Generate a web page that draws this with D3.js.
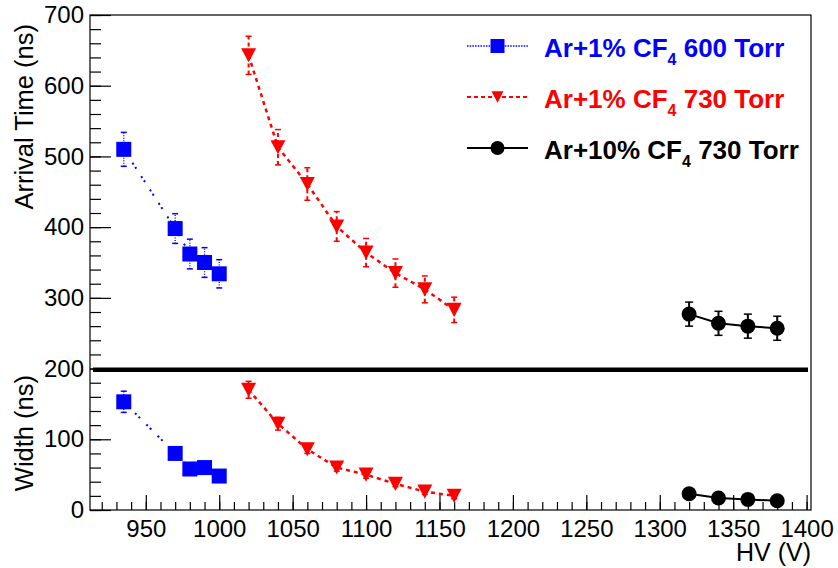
<!DOCTYPE html>
<html><head><meta charset="utf-8">
<script src="https://cdn.jsdelivr.net/npm/d3@7"></script>
<style>body{margin:0;background:#fff}svg{display:block}text{font-family:"Liberation Sans",Arial,Helvetica,sans-serif}</style>
</head><body><svg id="c" width="838" height="568"></svg>
<script>
// ---- data ----
const hvBlue=[935,970,980,990,1000];
const arrBlue=[510,398,362,350,334];
const arrBlueErr=[24,21,21,21,20];
const widBlue=[153,80,58,60,48];
const widBlueErr=[15,4,4,4,4];

const hvRed=[1020,1040,1060,1080,1100,1120,1140,1160];
const arrRed=[643,513,461,401,364,335,312,283];
const arrRedErr=[27,25,23,21,20,20,19,18];
const widRed=[170,122,86,60,50,37,26,20];
const widRedErr=[12,9,6,5,5,4,4,4];

const hvBlack=[1320,1340,1360,1380];
const arrBlack=[277,264,260,257];
const arrBlackErr=[17,17,17,17];
const widBlack=[23,17,15,13];
const widBlackErr=[3,3,3,3];

const xTicks=[950,1000,1050,1100,1150,1200,1250,1300,1350,1400];
const yTicks=[0,100,200,300,400,500,600,700];
const legendLabels=[["Ar+1% CF","4"," 600 Torr"],["Ar+1% CF","4"," 730 Torr"],["Ar+10% CF","4"," 730 Torr"]];

// ---- layout ----
const svg=d3.select("#c");
const L=90,R=811,T=15,B=510;
const x=d3.scaleLinear().domain([912,1403]).range([L,R]);
const y=d3.scaleLinear().domain([0,700]).range([B,T]);

const series=[
 {hv:hvBlue,arr:arrBlue,arrE:arrBlueErr,wid:widBlue,widE:widBlueErr,color:"#0000ff",dash:"2,3,2,9",lw:2,ebDash:"1,1.5",ebW:1.3,capW:3,marker:"square",legDash:"1.5,1.2",legW:1.5},
 {hv:hvRed,arr:arrRed,arrE:arrRedErr,wid:widRed,widE:widRedErr,color:"#ff0000",dash:"4,4",lw:2.5,ebDash:"4,3",ebW:2,capW:3,marker:"tri",legDash:"4,3",legW:2},
 {hv:hvBlack,arr:arrBlack,arrE:arrBlackErr,wid:widBlack,widE:widBlackErr,color:"#000000",dash:null,lw:2,ebDash:null,ebW:2,capW:4,marker:"circle",legDash:null,legW:2}
];

// frame
svg.append("rect").attr("x",L).attr("y",T).attr("width",R-L).attr("height",B-T)
  .attr("fill","none").attr("stroke","#000").attr("stroke-width",1.2);

// axes
function styleAxis(g){g.select(".domain").remove();g.selectAll("line").attr("stroke","#000").attr("stroke-width",1.2);}
const yMinor=d3.range(0,701,20);
svg.append("g").attr("transform",`translate(${L},0)`)
  .call(d3.axisLeft(y).tickValues(yMinor).tickSize(-11).tickFormat(""))
  .call(styleAxis);
svg.append("g").attr("transform",`translate(${L},0)`)
  .call(d3.axisLeft(y).tickValues(yTicks).tickSize(-21).tickPadding(6).tickFormat(d3.format("d")))
  .call(styleAxis)
  .selectAll("text").attr("font-size",24).attr("fill","#000");
const xMinor=d3.range(920,1401,10);
svg.append("g").attr("transform",`translate(0,${B})`)
  .call(d3.axisBottom(x).tickValues(xMinor).tickSize(-8).tickFormat(""))
  .call(styleAxis);
svg.append("g").attr("transform",`translate(0,${B})`)
  .call(d3.axisBottom(x).tickValues(xTicks).tickSize(-15).tickPadding(10).tickFormat(d3.format("d")))
  .call(styleAxis)
  .selectAll("text").attr("font-size",24).attr("fill","#000");

// titles
svg.append("text").attr("transform","translate(33,24) rotate(-90)").attr("text-anchor","end")
  .attr("font-size",25.5).text("Arrival Time (ns)");
svg.append("text").attr("transform","translate(33,375) rotate(-90)").attr("text-anchor","end")
  .attr("font-size",25.5).text("Width (ns)");
svg.append("text").attr("x",R).attr("y",561).attr("text-anchor","end").attr("font-size",25).text("HV (V)");

// separator line
svg.append("line").attr("x1",93).attr("x2",808).attr("y1",y(200)+1.2).attr("y2",y(200)+1.2)
  .attr("stroke","#000").attr("stroke-width",4.5);

function drawMarker(g,type,cx,cy,color,s){
  if(type==="square") g.append("rect").attr("x",cx-s/2).attr("y",cy-s/2).attr("width",s).attr("height",s).attr("fill",color);
  else if(type==="circle") g.append("circle").attr("cx",cx).attr("cy",cy).attr("r",s/2).attr("fill",color);
  else g.append("path").attr("d",`M${cx-s/2},${cy-s*0.47}L${cx+s/2},${cy-s*0.47}L${cx},${cy+s*0.47}Z`).attr("fill",color);
}

const line=d3.line().x(d=>x(d[0])).y(d=>y(d[1]));
series.forEach(s=>{
  ["arr","wid"].forEach(k=>{
    const vals=s[k], errs=s[k+"E"];
    const pts=s.hv.map((h,i)=>[h,vals[i],errs[i]]);
    const g=svg.append("g");
    // error bars
    pts.forEach(p=>{
      const eb=g.append("g").attr("stroke",s.color).attr("stroke-width",s.ebW);
      const l=eb.append("line").attr("x1",x(p[0])).attr("x2",x(p[0])).attr("y1",y(p[1]-p[2])).attr("y2",y(p[1]+p[2]));
      if(s.ebDash) l.attr("stroke-dasharray",s.ebDash);
      [p[1]-p[2],p[1]+p[2]].forEach(v=>{
        eb.append("line").attr("x1",x(p[0])-s.capW).attr("x2",x(p[0])+s.capW).attr("y1",y(v)).attr("y2",y(v)).attr("stroke-width",1.5);
      });
    });
    const path=g.append("path").datum(pts).attr("d",line).attr("fill","none")
      .attr("stroke",s.color).attr("stroke-width",s.lw);
    if(s.dash) path.attr("stroke-dasharray",s.dash);
    pts.forEach(p=>drawMarker(g,s.marker,x(p[0]),y(p[1]),s.color,15));
  });
});

// legend
const legY=[46,97,148];
series.forEach((s,i)=>{
  const g=svg.append("g");
  const l=g.append("line").attr("x1",467).attr("x2",528).attr("y1",legY[i]).attr("y2",legY[i])
    .attr("stroke",s.color).attr("stroke-width",s.legW);
  if(s.legDash) l.attr("stroke-dasharray",s.legDash);
  drawMarker(g,s.marker,497.5,legY[i],s.color,s.marker==="tri"?12:14);
  const t=g.append("text").attr("x",544).attr("y",legY[i]+10.5).attr("font-size",26).attr("font-weight","bold").attr("fill",s.color);
  t.append("tspan").text(legendLabels[i][0]);
  t.append("tspan").attr("font-size",16).attr("dy",8).text(legendLabels[i][1]);
  t.append("tspan").attr("dy",-8).text(legendLabels[i][2]);
});
</script></body></html>
